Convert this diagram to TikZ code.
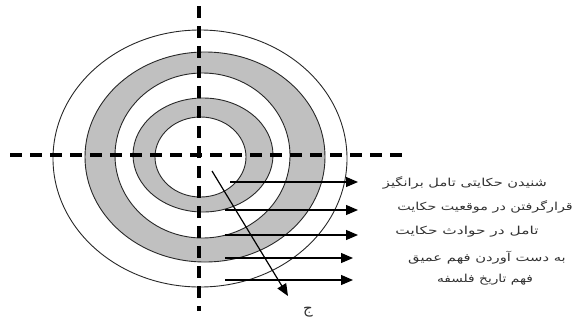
\documentclass[tikz,border=0pt]{standalone}
\usepackage{fontspec}
\newfontfamily\arabicfont[Script=Arabic]{DejaVu Sans}
\TeXXeTstate=1
\usetikzlibrary{arrows.meta}
\definecolor{ringgray}{RGB}{192,192,192}
\definecolor{ringline}{RGB}{40,40,40}
\definecolor{txt}{RGB}{50,50,50}
\begin{document}
\begin{tikzpicture}[x=1pt,y=-1pt,
  ringedge/.style={draw=ringline,line width=0.9pt},
  axis/.style={line width=3.6pt,dash pattern=on 12pt off 8pt},
  flow/.style={line width=1.2pt,-{Triangle[length=12pt,width=10pt]}},
  lbl/.style={font=\arabicfont\fontsize{11}{13}\selectfont,inner sep=0pt,text=txt}]
\useasboundingbox (0,0) rectangle (580,322);
% rings
\draw[ringedge] (200,158.5) ellipse [x radius=147,y radius=128.5];
\draw[ringedge,fill=ringgray] (205,157) ellipse [x radius=120,y radius=105];
\draw[ringedge,fill=white] (202.5,155.5) ellipse [x radius=87.5,y radius=82.5];
\draw[ringedge,fill=ringgray] (203,155) ellipse [x radius=70,y radius=57];
\draw[ringedge,fill=white] (200.5,157) ellipse [x radius=45.5,y radius=40];
% axes
\coordinate (vt) at (199,6);
\coordinate (vb) at (199,311);
\coordinate (hl) at (10,155);
\coordinate (hr) at (408,155);
\draw[axis] (vt) -- (vb);
\draw[axis] (hl) -- (hr);
% arrows
\coordinate (a1s) at (230,182); \coordinate (a1e) at (358,182);
\coordinate (a2s) at (225,210); \coordinate (a2e) at (358,210);
\coordinate (a3s) at (225,235); \coordinate (a3e) at (358,235);
\coordinate (a4s) at (225,258); \coordinate (a4e) at (353,258);
\coordinate (a5s) at (225,280); \coordinate (a5e) at (353,280);
\coordinate (ds) at (212,171); \coordinate (de) at (288,296);
\draw[flow] (a1s) -- (a1e);
\draw[flow] (a2s) -- (a2e);
\draw[flow] (a3s) -- (a3e);
\draw[flow] (a4s) -- (a4e);
\draw[flow] (a5s) -- (a5e);
\draw[flow] (ds) -- (de);
% labels
\node[lbl] (t1) at (465,183) {\scalebox{1.33}[1]{\beginR شنیدن حکایتی تامل برانگیز\endR}};
\node[lbl] (t2) at (485,207) {\scalebox{1.30}[1]{\beginR قرارگرفتن در موقعیت حکایت\endR}};
\node[lbl] (t3) at (467,232) {\scalebox{1.40}[1]{\beginR تامل در حوادث حکایت\endR}};
\node[lbl] (t4) at (487,258) {\scalebox{1.34}[1]{\beginR به دست آوردن فهم عمیق\endR}};
\node[lbl] (t5) at (485,280) {\scalebox{1.25}[1]{\beginR فهم تاریخ فلسفه\endR}};
\node[lbl,font=\arabicfont\fontsize{15}{17}\selectfont] (j) at (308,312) {\beginR ج\endR};
\end{tikzpicture}
\end{document}
